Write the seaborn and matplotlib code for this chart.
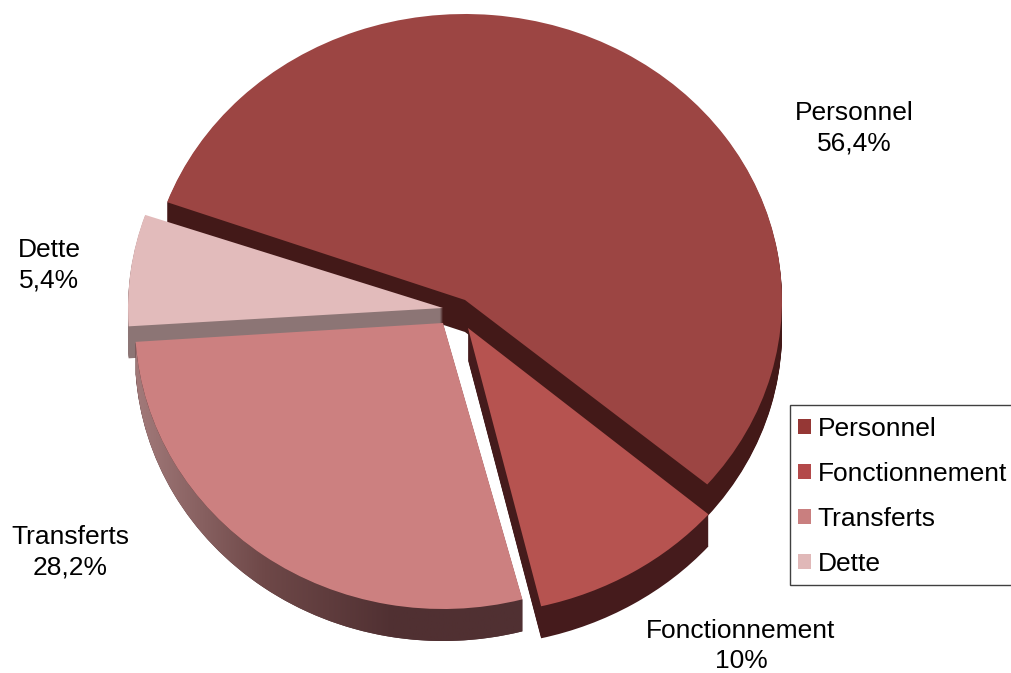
import numpy as np
import seaborn as sns
import matplotlib.pyplot as plt
from matplotlib.patches import Patch, Rectangle
from matplotlib.colors import LinearSegmentedColormap
from matplotlib.transforms import Affine2D

categories = ["Personnel", "Fonctionnement", "Transferts", "Dette"]
# printed labels, and the shares as actually drawn (measured from the slice angles)
share_labels = ["56,4%", "10%", "28,2%", "5,4%"]
shares = [55.6, 10, 28.1, 6.3]

top_colors = ["#9C4543", "#B65350", "#CC8080", "#E2BBBB"]
wall_colors = ["#431918", "#451B1C", "#503032", "#8C7575"]
legend_colors = ["#953735", "#B3494A", "#C97F7F", "#E0B8B8"]

W, H = 1012, 673
START = 160
DEPTH = 32

# per slice layout in pixels, y measured from the bottom
centers = {0: (465, H - 300), 1: (468, H - 328), 2: (443, H - 323), 3: (443, H - 308)}
rx = {0: 317, 1: 317, 2: 308, 3: 315}
ry = {0: 286, 1: 286, 2: 286, 3: 286}
turn = {0: 0, 1: -0.5, 2: 1.1, 3: 1.0}
label_pos = {0: (854, 128), 1: (741, 646), 2: (70, 552), 3: (49, 265)}

sns.set_theme(style="white")
plt.rcParams["font.family"] = ["Liberation Sans", "DejaVu Sans"]

fig = plt.figure(figsize=(W / 100, H / 100), dpi=100)
ax = fig.add_axes([0, 0, 1, 1])


def draw_slice(i, color, drop=0):
    cx, cy = centers[i]
    cy = cy - drop
    wedges, _ = ax.pie(shares, startangle=START + turn[i], counterclock=False, radius=rx[i],
                       center=(cx, cy), colors=[color] * 4, normalize=True,
                       wedgeprops={"linewidth": 0, "edgecolor": "none"})
    squash = Affine2D().translate(-cx, -cy).scale(1, ry[i] / rx[i]).translate(cx, cy)
    for j, w in enumerate(wedges):
        if j == i:
            w.set_transform(squash + ax.transData)
            kept = w
        else:
            w.remove()
    return kept


# back to front
for n, i in enumerate([0, 3, 1, 2]):
    for d in range(DEPTH, 0, -1):
        draw_slice(i, wall_colors[i], d).set_zorder(n + 1)
    top = draw_slice(i, top_colors[i])
    top.set_zorder(n + 1.5)
    if i == 2:
        # shaded outer wall of Transferts, lighter on the left
        cx, cy = centers[i]
        th = np.radians(np.linspace(top.theta1, top.theta2, 150))
        xs = cx + rx[i] * np.cos(th)
        ys = cy + ry[i] * np.sin(th)
        outline = np.column_stack([np.r_[xs, xs[::-1]], np.r_[ys, ys[::-1] - DEPTH]])
        poly = plt.Polygon(outline, closed=True, fc="none", ec="none", transform=ax.transData)
        ax.add_patch(poly)
        shade = LinearSegmentedColormap.from_list("wall", ["#A27A7A", "#6E4848", "#503032", "#503032"])
        img = ax.imshow(np.linspace(0, 1, 256).reshape(1, -1), cmap=shade, aspect="auto",
                        extent=(cx - rx[i], cx + 80, cy - ry[i] - DEPTH, cy + 40),
                        zorder=n + 1.2)
        img.set_clip_path(poly)

ax.set_aspect("auto")
ax.set_xlim(0, W)
ax.set_ylim(0, H)
ax.axis("off")

for i, name in enumerate(categories):
    x, y = label_pos[i]
    fig.text(x / W, 1 - y / H, name + "\n" + share_labels[i], ha="center", va="center",
             fontsize=19, color="black", linespacing=1.32)

# frame runs off the right edge like the original
fig.add_artist(Rectangle((790 / W, 1 - 585 / H), 240 / W, 180 / H, transform=fig.transFigure,
                         fc="white", ec="#404040", lw=1))
handles = [Patch(facecolor=c, edgecolor="none") for c in legend_colors]
leg = fig.legend(handles, categories, loc="upper left", bbox_to_anchor=(789 / W, 1 - 408 / H),
                 bbox_transform=fig.transFigure, borderaxespad=0, fontsize=19, frameon=False,
                 handlelength=0.5, handleheight=0.5,
                 handletextpad=0.25, labelspacing=0.8, borderpad=0.33, labelcolor="black")

fig.savefig("out.png", dpi=100)
